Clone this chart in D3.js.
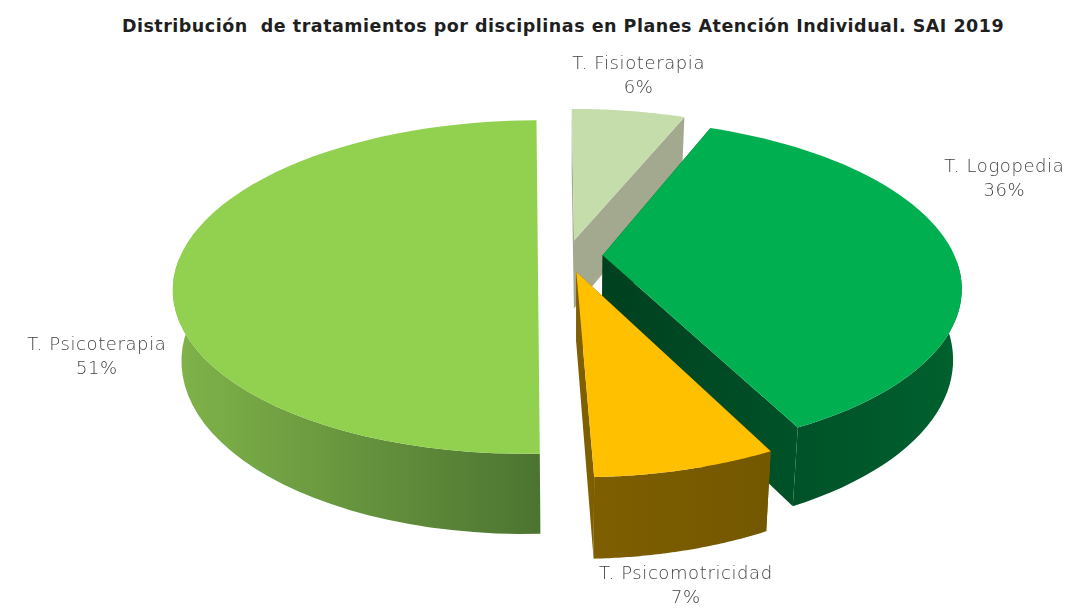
<!DOCTYPE html>
<html>
<head>
<meta charset="utf-8">
<script src="https://cdn.jsdelivr.net/npm/d3@7"></script>
<style>
  html, body { margin: 0; padding: 0; background: #fff; }
  svg { display: block; }
  text { font-family: "DejaVu Sans", Inter, sans-serif; }
</style>
</head>
<body>
<div id="chart"></div>
<script>
// data (rounded labels show 6, 36, 7, 51)
const categories = ["T. Fisioterapia", "T. Logopedia", "T. Psicomotricidad", "T. Psicoterapia"];
const shares = [6.2, 36.49, 6.81, 50.5];
const titleText = "Distribución  de tratamientos por disciplinas en Planes Atención Individual. SAI 2019";

// colours per slice: top face, wall left, wall right
const topColors = ["#c5dcab", "#00b050", "#ffc000", "#92d050"];
const wallFrom = ["#a3a98f", "#00401f", "#7f5f00", "#7fb249"];
const wallTo = ["#a3a98f", "#00602e", "#745800", "#4c7431"];

const W = 1073, H = 608;
const rotation = -0.25 * Math.PI / 180; // first slice angle
const explode = 0.1;
const persp = 0.184;   // foreshortening of the far side
const depth = 69;      // wall height in px at w = 1
const shrink = 0.978;  // lower rim converges a little

const x = d3.scaleLinear().domain([-1, 1]).range([215.5, 919.5]);
const y = d3.scaleLinear().domain([-1, 1]).range([95, 417]);

const svg = d3.select("#chart").append("svg").attr("width", W).attr("height", H);
const defs = svg.append("defs");

// plane point -> screen, low = true gives the bottom rim
function project(t, r, off, low) {
  const u = r * Math.sin(t) + off[0];
  const v = -r * Math.cos(t) + off[1];
  const w = 1 - persp * v;
  const k = low ? shrink : 1;
  return [x(u / w * k), y(v / w * k) + (low ? depth / w : 0)];
}

const pie = d3.pie().sort(null).startAngle(rotation).endAngle(rotation + 2 * Math.PI);
const slices = pie(shares).map((d, i) => {
  const mid = (d.startAngle + d.endAngle) / 2;
  return { ...d, i, mid, off: [explode * Math.sin(mid), -explode * Math.cos(mid)] };
});

const line = d3.line();
const angles = d => d3.range(0, 61).map(k => d.startAngle + (d.endAngle - d.startAngle) * k / 60);

// painter's order: back slice first, the front one last
const order = [0, 1, 3, 2];
order.forEach(i => {
  const d = slices[i];
  const g = svg.append("g");
  const ts = angles(d);
  const top = ts.map(t => project(t, 1, d.off, false));
  const bottom = ts.map(t => project(t, 1, d.off, true));
  const apexT = project(0, 0, d.off, false), apexB = project(0, 0, d.off, true);

  const ext = d3.extent(bottom.concat([apexB]), p => p[0]);
  const grad = defs.append("linearGradient").attr("id", "wall" + i)
    .attr("gradientUnits", "userSpaceOnUse")
    .attr("x1", ext[0]).attr("x2", ext[1]).attr("y1", 0).attr("y2", 0);
  grad.append("stop").attr("offset", 0).attr("stop-color", wallFrom[i]);
  grad.append("stop").attr("offset", 1).attr("stop-color", wallTo[i]);

  // radial walls, the big slice hides its own
  if (i !== 3) {
    [[top[0], bottom[0]], [top[60], bottom[60]]].forEach(e => {
      g.append("path")
        .attr("d", line([apexT, e[0], e[1], apexB]) + "Z")
        .attr("fill", `url(#wall${i})`);
    });
  }
  // outer wall, only the part that faces the viewer
  const front = ts.map((t, k) => k).filter(k => Math.cos(ts[k]) < 0);
  if (front.length) {
    const upper = front.map(k => top[k]), lower = front.map(k => bottom[k]).reverse();
    g.append("path")
      .attr("d", line(upper.concat(lower)) + "Z")
      .attr("fill", `url(#wall${i})`);
  }
  // top face; the big slice has a straight edge in the picture, no apex kink
  g.append("path")
    .attr("d", line(i === 3 ? top : [apexT].concat(top)) + "Z")
    .attr("fill", topColors[i]);
});

svg.append("text")
  .attr("x", 563).attr("y", 32)
  .attr("text-anchor", "middle")
  .style("font-size", "17.5px").style("font-weight", 700).style("fill", "#1f1f1f")
  .style("letter-spacing", "0.5px")
  .style("white-space", "pre")
  .text(titleText);

// labels sit next to the rim of their slice
const labelShift = [[10, -42], [53, -77], [2, 28], [-82, 90]];
const labels = svg.append("g").style("opacity", 0.99).selectAll("text").data(slices).join("text")
  .attr("text-anchor", "middle")
  .style("font-size", "18px").style("font-weight", 200).style("fill", "#404040")
  .style("letter-spacing", "0.6px")
  .attr("transform", d => {
    const p = project(d.mid, 1, d.off, d.i === 2);
    return `translate(${p[0] + labelShift[d.i][0]},${p[1] + labelShift[d.i][1]})`;
  });
labels.append("tspan").attr("x", 0).attr("dy", 0).text(d => categories[d.i]);
labels.append("tspan").attr("x", 0).attr("dy", 24).text(d => Math.round(d.data) + "%");
</script>
</body>
</html>
